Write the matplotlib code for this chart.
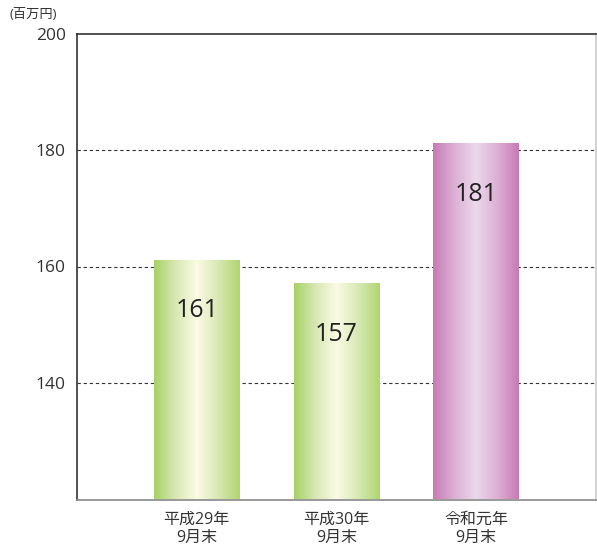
import numpy as np
import matplotlib
matplotlib.use("Agg")
from matplotlib import pyplot as plt
from matplotlib.colors import LinearSegmentedColormap

plt.rcParams['font.family'] = ['Open Sans', 'Noto Sans CJK JP', 'DejaVu Sans']

categories = ["平成29年\n9月末", "平成30年\n9月末", "令和元年\n9月末"]
values = [161, 157, 181]
yticks = [140, 160, 180, 200]

green = LinearSegmentedColormap.from_list("g", ["#a6d264", "#d8e8b4", "#fbfbe4", "#d8e8b4", "#b0d66e"])
pink = LinearSegmentedColormap.from_list("p", ["#c87ab6", "#dcb0d4", "#ecd8ec", "#dcb0d4", "#c87ab6"])
cmaps = [green, green, pink]

fig = plt.figure(figsize=(5.97, 5.49), dpi=100)
ax = fig.add_axes([77 / 597, 49.5 / 549, 519 / 597, 466 / 549])
ymin, ymax = 120, 200

x = np.arange(len(values))
w = 0.614
bars = ax.bar(x, values, width=w, color="none", zorder=3)
grad = np.linspace(0, 1, 256).reshape(1, -1)
for b, cm, v in zip(bars, cmaps, values):
    ax.imshow(grad, cmap=cm, aspect="auto", zorder=3,
              extent=(b.get_x(), b.get_x() + b.get_width(), ymin, v))
    ax.text(b.get_x() + b.get_width() / 2, v - 8.6, str(v), ha="center",
            va="center", fontsize=18, color="#222222", zorder=4)

ax.set_xlim(-0.857, 2.857)
ax.set_ylim(ymin, ymax)
ax.set_yticks(yticks)
ax.set_yticklabels([str(t) for t in yticks], fontsize=12.5, color="#333333")
ax.set_xticks(x)
ax.set_xticklabels(categories, fontsize=11.5, color="#333333", linespacing=1.15)
ax.tick_params(axis="y", length=0, pad=8)
ax.tick_params(axis="x", length=0, pad=9)
for t in [140, 160, 180]:
    ax.axhline(t, color="#333333", linestyle=(0, (3, 2.5)), linewidth=0.8, zorder=1)

ax.spines["left"].set_color("#333333")
ax.spines["top"].set_color("#333333")
ax.spines["right"].set_color("#cccccc")
ax.spines["bottom"].set_color("#888888")
for s in ax.spines.values():
    s.set_linewidth(1.2)
ax.spines["bottom"].set_zorder(5)

fig.text(10 / 597, 1 - 14 / 549, "(百万円)", fontsize=9.5, color="#333333", va="center")

plt.savefig("out.png", dpi=100)
